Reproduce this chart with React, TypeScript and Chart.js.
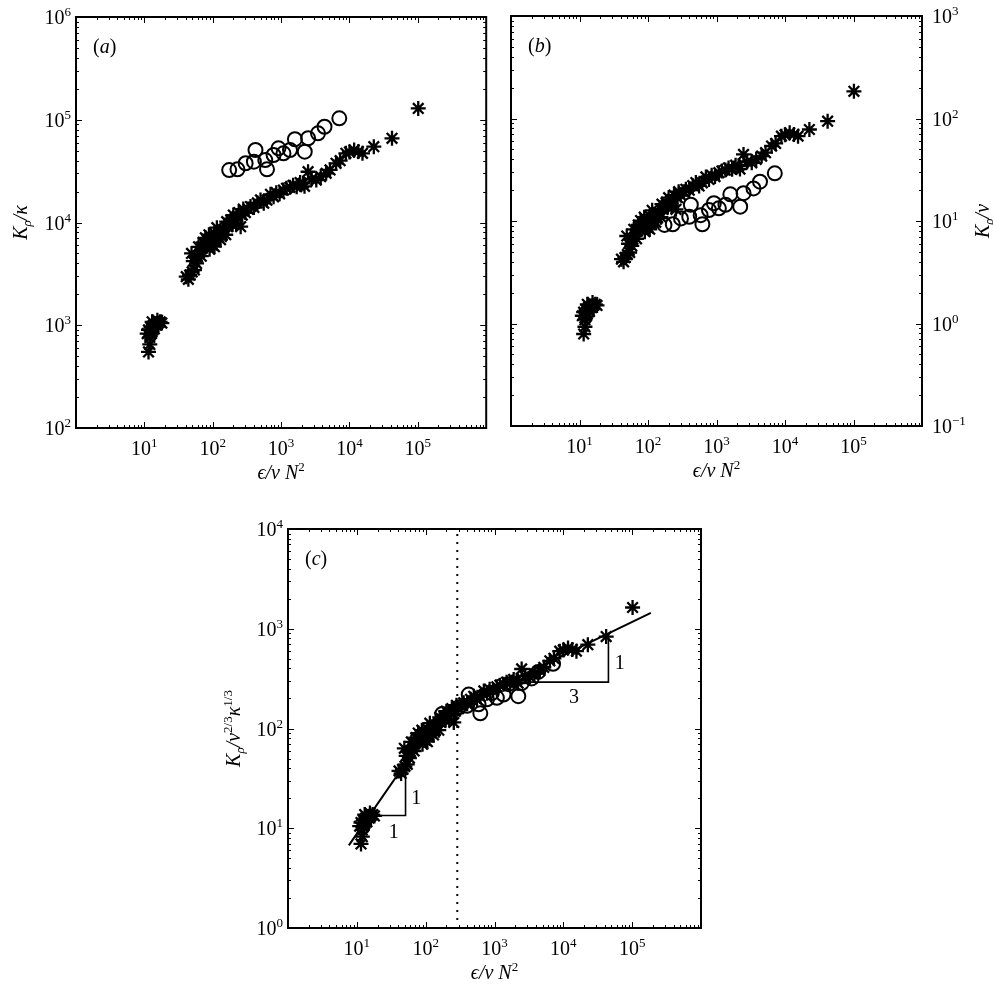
import React, { useEffect, useRef } from "react";
import { Chart, registerables } from "chart.js";

Chart.register(...registerables);

const FONT = '"Liberation Serif", "Times New Roman", "DejaVu Serif", serif';

// ---------------- DATA ----------------
// asterisks: epsilon / (nu N^2)
const starEps = [
  11.5, 11, 11.5, 12, 12.5, 13, 13.5, 14, 15, 16, 17, 18, 12, 13, 15.5, 12.5,
  41, 44, 46, 50, 54, 49, 52, 58, 60,
  65, 70, 72, 76, 80, 85, 90, 95, 100, 106, 106, 110, 120, 125, 130, 140, 148, 155, 165, 175, 184, 195, 210, 229, 240, 256, 270, 300,
  68, 88, 115, 135, 160, 200, 220, 280, 62, 78,
  330, 357, 400, 450, 500, 557, 620, 700, 777, 850, 950, 1083, 1200, 1350, 1500, 1690, 1900, 2100, 2200, 2480,
  2800, 3270, 3800, 4560, 5200, 6370, 7300, 8870, 10000, 11700, 13500, 15500, 22700, 41900, 101400,
];
// asterisks: K_rho / kappa  (panel a)
const starKrhoKappa = [
  550, 830, 900, 760, 950, 870, 1000, 920, 1000, 1050, 1080, 1050, 650, 1080, 1120, 820,
  2970, 2800, 3080, 3300, 3450, 5000, 4200, 4000, 4640,
  5200, 5600, 6400, 6280, 5800, 6600, 5500, 7000, 6000, 5820, 7850, 6800, 7200, 8000, 6800, 8500, 8460, 7600, 9100, 9800, 10600, 9600, 10800, 11400, 12500, 9100, 11800, 12500,
  4700, 7600, 8900, 7700, 10200, 11800, 9800, 13500, 5800, 7100,
  13500, 14300, 14000, 15500, 16600, 15400, 16500, 18800, 17800, 19500, 19000, 20700, 21500, 22000, 23000, 22300, 24500, 24100, 22500, 31200,
  26500, 25900, 28000, 30100, 32500, 37700, 40000, 47100, 48500, 50800, 49000, 47100, 54700, 65900, 129000,
];
// asterisks: K_rho / nu  (panel b)
const starKrhoNu = [
  0.79, 1.19, 1.29, 1.09, 1.36, 1.24, 1.43, 1.31, 1.43, 1.5, 1.54, 1.5, 0.93, 1.54, 1.6, 1.17,
  4.24, 4.0, 4.4, 4.71, 4.93, 7.14, 6.0, 5.71, 6.63,
  7.43, 8.0, 9.14, 8.97, 8.29, 9.43, 7.86, 10.0, 8.57, 8.31, 11.2, 9.71, 10.3, 11.4, 9.71, 12.1, 12.1, 10.9, 13.0, 14.0, 15.1, 13.7, 15.4, 16.3, 17.9, 13.0, 16.9, 17.9,
  6.71, 10.9, 12.7, 11.0, 14.6, 16.9, 14.0, 19.3, 8.29, 10.1,
  19.3, 20.4, 20.0, 22.1, 23.7, 22.0, 23.6, 26.9, 25.4, 27.9, 27.1, 29.6, 30.7, 31.4, 32.9, 31.9, 35.0, 34.4, 32.1, 44.6,
  37.9, 37.0, 40.0, 43.0, 46.4, 53.9, 57.1, 67.3, 69.3, 72.6, 70.0, 67.3, 78.1, 94.1, 184,
];
// asterisks: K_rho / (nu^2/3 kappa^1/3)  (panel c)
const starKrhoMixed = [
  6.96, 10.5, 11.4, 9.62, 12.0, 11.0, 12.7, 11.6, 12.7, 13.3, 13.7, 13.3, 8.23, 13.7, 14.2, 10.4,
  37.6, 35.4, 39.0, 41.8, 43.7, 63.3, 53.2, 50.6, 58.7,
  65.8, 70.9, 81.0, 79.5, 73.4, 83.5, 69.6, 88.6, 75.9, 73.7, 99.4, 86.1, 91.1, 101, 86.1, 108, 107, 96.2, 115, 124, 134, 122, 137, 144, 158, 115, 149, 158,
  59.5, 96.2, 113, 97.5, 129, 149, 124, 171, 73.4, 89.9,
  171, 181, 177, 196, 210, 195, 209, 238, 225, 247, 241, 262, 272, 278, 291, 282, 310, 305, 285, 395,
  335, 328, 354, 381, 411, 477, 506, 596, 614, 643, 620, 596, 692, 834, 1633,
];

// circles
const circEps = [174, 230, 303, 400, 422, 622, 587, 776, 916, 1083, 1350, 1592, 2218, 2483, 3467, 4315, 7100];
const circKrhoKappa = [32400, 32900, 37700, 39100, 50800, 32900, 40500, 45400, 52700, 47100, 50800, 64600, 48900, 66100, 73800, 85500, 103300];
const circKrhoNu = [9.15, 9.29, 10.6, 11.0, 14.4, 9.29, 11.4, 12.8, 14.9, 13.3, 14.4, 18.2, 13.8, 18.7, 20.8, 24.2, 29.2];
const circKrhoMixed = [140, 142, 163, 169, 219, 142, 175, 196, 227, 203, 219, 278, 211, 285, 318, 369, 445];

// panel (c) guide lines
const fitEps = [7.65, 154, 187000];
const fitK = [6.74, 135, 1442];
const triLowEps = [15.3, 51, 51];
const triLowK = [13.4, 13.4, 44.9];
const triHighEps = [1550, 45200, 45200];
const triHighK = [292, 292, 897];
const dottedEps = [288, 288];
const dottedK = [1.2, 9200];
const slopeLabels = [
  { text: "1", x: 73, y: 20.5 },
  { text: "1", x: 34.5, y: 9.44 },
  { text: "1", x: 66200, y: 468 },
  { text: "3", x: 14300, y: 213 },
];

// ticks
const xTickExps = [1, 2, 3, 4, 5];
const yExpsA = [2, 3, 4, 5, 6];
const yExpsB = [-1, 0, 1, 2, 3];
const yExpsC = [0, 1, 2, 3, 4];

// ---------------- HELPERS ----------------
type Seg = { t: string; it?: boolean; sup?: boolean; sub?: boolean };

function drawRich(ctx: CanvasRenderingContext2D, segs: Seg[], x: number, y: number, align: "left" | "center" | "right", size = 20) {
  const small = Math.round(size * 0.65);
  const fontFor = (s: Seg) => `${s.it ? "italic " : ""}${s.sup || s.sub ? small : size}px ${FONT}`;
  let total = 0;
  const widths = segs.map((s) => {
    ctx.font = fontFor(s);
    const w = ctx.measureText(s.t).width;
    total += w;
    return w;
  });
  let cx = align === "left" ? x : align === "center" ? x - total / 2 : x - total;
  ctx.textAlign = "left";
  ctx.textBaseline = "alphabetic";
  ctx.fillStyle = "#000";
  segs.forEach((s, i) => {
    ctx.font = fontFor(s);
    const dy = s.sup ? -size * 0.4 : s.sub ? size * 0.22 : 0;
    ctx.fillText(s.t, cx, y + dy);
    cx += widths[i];
  });
}

const expStr = (e: number) => (e < 0 ? "\u2212" + Math.abs(e) : String(e));
const pts = (xs: number[], ys: number[]) => xs.map((x, i) => ({ x, y: ys[i] }));

interface PanelCfg {
  yMin: number;
  yMax: number;
  yExps: number[];
  ySide: "left" | "right";
  yTitle: Seg[];
  yTitleOffset: number;
  label: string;
  extraTexts?: { text: string; x: number; y: number }[];
}

function framePlugin(cfg: PanelCfg) {
  return {
    id: "frame",
    afterDraw(chart: any) {
      const ctx: CanvasRenderingContext2D = chart.ctx;
      const a = chart.chartArea;
      const xs = chart.scales.x;
      const ys = chart.scales.y;
      ctx.save();
      ctx.strokeStyle = "#000";
      ctx.lineWidth = 1;
      ctx.beginPath();
      for (let d = 0; d < 6; d++) {
        for (let k = 1; k <= 9; k++) {
          const v = k * Math.pow(10, d);
          const px = Math.round(xs.getPixelForValue(v)) + 0.5;
          const len = k === 1 ? 6 : 3;
          ctx.moveTo(px, a.bottom);
          ctx.lineTo(px, a.bottom - len);
          ctx.moveTo(px, a.top);
          ctx.lineTo(px, a.top + len);
        }
      }
      const yd0 = cfg.yExps[0];
      const yd1 = cfg.yExps[cfg.yExps.length - 1];
      for (let d = yd0; d < yd1; d++) {
        for (let k = 1; k <= 9; k++) {
          const v = k * Math.pow(10, d);
          const py = Math.round(ys.getPixelForValue(v)) + 0.5;
          const len = k === 1 ? 6 : 3;
          ctx.moveTo(a.left, py);
          ctx.lineTo(a.left + len, py);
          ctx.moveTo(a.right, py);
          ctx.lineTo(a.right - len, py);
        }
      }
      ctx.stroke();
      ctx.lineWidth = 2;
      ctx.strokeRect(a.left, a.top, a.right - a.left, a.bottom - a.top);

      xTickExps.forEach((e) => {
        const px = xs.getPixelForValue(Math.pow(10, e));
        drawRich(ctx, [{ t: "10" }, { t: expStr(e), sup: true }], px, a.bottom + 27, "center");
      });
      cfg.yExps.forEach((e) => {
        const py = ys.getPixelForValue(Math.pow(10, e));
        if (cfg.ySide === "left") {
          drawRich(ctx, [{ t: "10" }, { t: expStr(e), sup: true }], a.left - 5, py + 7, "right");
        } else {
          drawRich(ctx, [{ t: "10" }, { t: expStr(e), sup: true }], a.right + 10, py + 7, "left");
        }
      });
      drawRich(
        ctx,
        [{ t: "\u03F5/\u03BD", it: true }, { t: " " }, { t: "N", it: true }, { t: "2", sup: true }],
        (a.left + a.right) / 2,
        a.bottom + 51,
        "center"
      );
      const cy = (a.top + a.bottom) / 2;
      const cxT = cfg.ySide === "left" ? a.left - cfg.yTitleOffset : a.right + cfg.yTitleOffset;
      ctx.save();
      ctx.translate(cxT, cy);
      ctx.rotate(-Math.PI / 2);
      drawRich(ctx, cfg.yTitle, 0, 7, "center");
      ctx.restore();
      drawRich(ctx, [{ t: "(" }, { t: cfg.label, it: true }, { t: ")" }], a.left + 17, a.top + 36, "left");
      (cfg.extraTexts || []).forEach((t) => {
        drawRich(ctx, [{ t: t.text }], xs.getPixelForValue(t.x), ys.getPixelForValue(t.y) + 7, "center");
      });
      ctx.restore();
    },
  };
}

function starSet(ys: number[]) {
  return {
    label: "stars",
    data: pts(starEps, ys),
    pointStyle: "star",
    pointRadius: 7.5,
    borderColor: "#000",
    backgroundColor: "#000",
    pointBorderWidth: 2.3,
    borderWidth: 2.3,
    showLine: false,
    order: 2,
  };
}
function circSet(ys: number[]) {
  return {
    label: "circles",
    data: pts(circEps, ys),
    pointStyle: "circle",
    pointRadius: 7,
    borderColor: "#000",
    backgroundColor: "rgba(0,0,0,0)",
    pointBorderWidth: 2,
    borderWidth: 2,
    showLine: false,
    order: 1,
  };
}
function lineSet(xs: number[], ys: number[], width: number, dash: number[] = [], order = 3) {
  return {
    label: "line",
    data: pts(xs, ys),
    showLine: true,
    pointRadius: 0,
    borderColor: "#000",
    backgroundColor: "#000",
    borderWidth: width,
    borderDash: dash,
    borderCapStyle: "butt",
    fill: false,
    tension: 0,
    order,
  };
}

function Panel(props: {
  left: number;
  top: number;
  width: number;
  height: number;
  padding: { left: number; right: number; top: number; bottom: number };
  cfg: PanelCfg;
  datasets: any[];
}) {
  const ref = useRef<HTMLCanvasElement>(null);
  useEffect(() => {
    if (!ref.current) return;
    const chart = new Chart(ref.current, {
      type: "scatter",
      data: { datasets: props.datasets },
      options: {
        responsive: false,
        maintainAspectRatio: false,
        animation: false,
        events: [],
        layout: { padding: props.padding },
        plugins: { legend: { display: false }, tooltip: { enabled: false } },
        scales: {
          x: { type: "logarithmic", min: 1, max: 1e6, display: false },
          y: { type: "logarithmic", min: props.cfg.yMin, max: props.cfg.yMax, display: false },
        },
      } as any,
      plugins: [framePlugin(props.cfg)],
    });
    return () => chart.destroy();
  }, []);
  return (
    <canvas
      ref={ref}
      width={props.width}
      height={props.height}
      style={{ position: "absolute", left: props.left, top: props.top, width: props.width, height: props.height }}
    />
  );
}

export default function App() {
  const cfgA: PanelCfg = {
    yMin: 1e2,
    yMax: 1e6,
    yExps: yExpsA,
    ySide: "left",
    yTitle: [{ t: "K", it: true }, { t: "\u03C1", it: true, sub: true }, { t: "/\u03BA", it: true }],
    yTitleOffset: 56,
    label: "a",
  };
  const cfgB: PanelCfg = {
    yMin: 1e-1,
    yMax: 1e3,
    yExps: yExpsB,
    ySide: "right",
    yTitle: [{ t: "K", it: true }, { t: "\u03C1", it: true, sub: true }, { t: "/\u03BD", it: true }],
    yTitleOffset: 60,
    label: "b",
  };
  const cfgC: PanelCfg = {
    yMin: 1,
    yMax: 1e4,
    yExps: yExpsC,
    ySide: "left",
    yTitle: [
      { t: "K", it: true },
      { t: "\u03C1", it: true, sub: true },
      { t: "/\u03BD", it: true },
      { t: "2/3", sup: true },
      { t: "\u03BA", it: true },
      { t: "1/3", sup: true },
    ],
    yTitleOffset: 55,
    label: "c",
    extraTexts: slopeLabels,
  };

  return (
    <div style={{ position: "absolute", left: 0, top: 0, width: 993, height: 999, background: "#fff", overflow: "hidden" }}>
      <Panel
        left={0}
        top={0}
        width={496}
        height={490}
        padding={{ left: 76, right: 6, top: 17, bottom: 62 }}
        cfg={cfgA}
        datasets={[circSet(circKrhoKappa), starSet(starKrhoKappa)]}
      />
      <Panel
        left={496}
        top={0}
        width={497}
        height={490}
        padding={{ left: 15, right: 71, top: 16, bottom: 64 }}
        cfg={cfgB}
        datasets={[circSet(circKrhoNu), starSet(starKrhoNu)]}
      />
      <Panel
        left={200}
        top={490}
        width={600}
        height={509}
        padding={{ left: 88, right: 99, top: 39, bottom: 71 }}
        cfg={cfgC}
        datasets={[
          circSet(circKrhoMixed),
          starSet(starKrhoMixed),
          lineSet(fitEps, fitK, 2, [], 3),
          lineSet(triLowEps, triLowK, 1.6, [], 4),
          lineSet(triHighEps, triHighK, 1.6, [], 5),
          lineSet(dottedEps, dottedK, 2, [2, 6], 6),
        ]}
      />
    </div>
  );
}
